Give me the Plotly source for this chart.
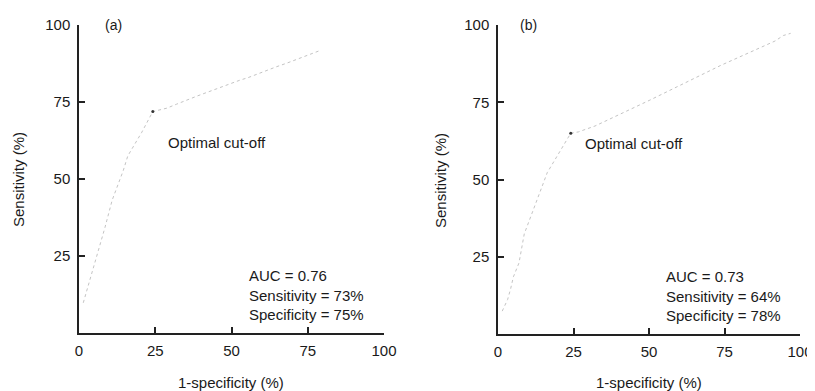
import plotly.graph_objects as go

# ROC curve (a)
fpr_a = [1.4, 4.5, 8.5, 10.9, 14.5, 16.0, 20.6, 24.2, 28.8, 32.0, 37.3, 38.9, 52.8, 55.4, 64.9, 68.1, 79.0]
sens_a = [9.8, 20.1, 34.2, 43.2, 52.7, 57.5, 65.2, 71.9, 73.0, 74.3, 76.2, 77.0, 82.1, 82.9, 86.5, 87.6, 91.7]
opt_a = (24.2, 71.9)

# ROC curve (b)
fpr_b = [1.4, 3.2, 4.2, 5.1, 6.95, 7.8, 8.7, 15.0, 16.3, 24.1, 26.6, 32.1, 43.7, 50.3, 73.7, 85.7, 91.7, 94.5, 96.9]
sens_b = [7.4, 11.2, 14.7, 18.5, 23.0, 27.4, 32.4, 48.8, 52.2, 65.0, 65.4, 67.3, 72.7, 75.7, 86.9, 92.1, 94.8, 96.6, 97.3]
opt_b = (24.1, 65.0)

x_ticks = [0, 25, 50, 75, 100]
y_ticks = [25, 50, 75, 100]

panel_labels = ["(a)", "(b)"]
stats_a = ["AUC = 0.76", "Sensitivity = 73%", "Specificity = 75%"]
stats_b = ["AUC = 0.73", "Sensitivity = 64%", "Specificity = 78%"]

FONT = "Liberation Sans, Arial, sans-serif"
TXT = "#1a1a1a"

# page body has an 8px margin: figure occupies the window from (8, 8)
W, H = 807, 383

fig = go.Figure()

for i, (fx, sy, opt) in enumerate([(fpr_a, sens_a, opt_a), (fpr_b, sens_b, opt_b)]):
    xa = "x" if i == 0 else "x2"
    ya = "y" if i == 0 else "y2"
    fig.add_trace(go.Scatter(x=fx, y=sy, mode="lines", xaxis=xa, yaxis=ya,
                             line=dict(color="#c4c4c4", width=1, dash="dot"),
                             showlegend=False, hoverinfo="skip"))
    fig.add_trace(go.Scatter(x=[opt[0]], y=[opt[1]], mode="markers", xaxis=xa, yaxis=ya,
                             marker=dict(color="#333", size=3),
                             showlegend=False, hoverinfo="skip"))

axis_common = dict(range=[0, 100], showline=True, linecolor="#222", linewidth=1.5,
                   ticks="inside", ticklen=6, tickcolor="#222", tickwidth=1.5,
                   showgrid=False, zeroline=False, automargin=False,
                   tickfont=dict(family=FONT, size=15, color=TXT))

fig.update_layout(
    width=W, height=H,
    margin=dict(l=0, r=0, t=0, b=0, autoexpand=False),
    paper_bgcolor="white", plot_bgcolor="white",
    xaxis=dict(domain=[71/W, 376/W], anchor="y", tickvals=x_ticks, ticklabelstandoff=3,
               ticktext=[str(v) for v in x_ticks], **axis_common),
    yaxis=dict(domain=[1-325/H, 1-17/H], anchor="x", tickvals=y_ticks, ticklabelstandoff=4,
               ticktext=[str(v) for v in y_ticks], **axis_common),
    xaxis2=dict(domain=[490/W, 792/W], anchor="y2", tickvals=x_ticks, ticklabelstandoff=3,
                ticktext=[str(v) for v in x_ticks], **axis_common),
    yaxis2=dict(domain=[1-326/H, 1-17/H], anchor="x2", tickvals=y_ticks, ticklabelstandoff=4,
                ticktext=[str(v) for v in y_ticks], **axis_common),
)

ann = []
for i, (xr, yr, stats, cx, ytx) in enumerate([
        ("x", "y", stats_a, 223, 10), ("x2", "y2", stats_b, 641, 432)]):
    ann.append(dict(x=8 if i == 0 else 6.5, y=100, xref=xr, yref=yr, text=panel_labels[i],
                    showarrow=False, xanchor="left", yanchor="middle",
                    font=dict(family=FONT, size=14, color=TXT)))
    ann.append(dict(x=28.5 if i == 0 else 28.0, y=62 if i == 0 else 61.5, xref=xr, yref=yr,
                    text="Optimal cut-off", showarrow=False,
                    xanchor="left", yanchor="middle",
                    font=dict(family=FONT, size=15, color=TXT)))
    ann.append(dict(x=55.0, y=2.7, xref=xr, yref=yr,
                    text="<br>".join(stats), showarrow=False, align="left",
                    xanchor="left", yanchor="bottom",
                    font=dict(family=FONT, size=15, color=TXT)))
    ann.append(dict(x=cx/W, y=1-374/H, xref="paper", yref="paper",
                    text="1-specificity (%)", showarrow=False,
                    xanchor="center", yanchor="middle",
                    font=dict(family=FONT, size=15, color=TXT)))
    ann.append(dict(x=ytx/W, y=1-172/H, xref="paper", yref="paper",
                    text="Sensitivity (%)", showarrow=False, textangle=-90,
                    xanchor="center", yanchor="middle",
                    font=dict(family=FONT, size=15, color=TXT)))
fig.update_layout(annotations=ann)

fig.write_html("out.html")
